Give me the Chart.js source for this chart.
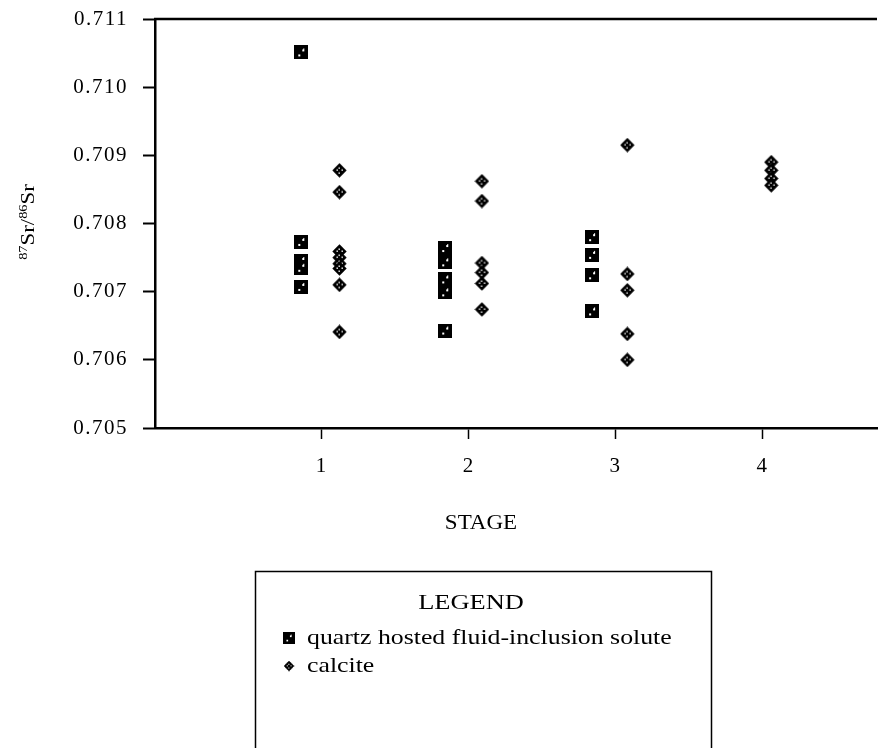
<!DOCTYPE html>
<html><head><meta charset="utf-8">
<script src="https://cdn.jsdelivr.net/npm/chart.js@4.4.0/dist/chart.umd.min.js"></script>
<style>html,body{margin:0;padding:0;background:#fff;} canvas{display:block;}</style>
</head><body>
<canvas id="c" width="882" height="748"></canvas>
<script>
// ---- data ----
const stageTicks = [1, 2, 3, 4];
const yTickValues = [0.705, 0.706, 0.707, 0.708, 0.709, 0.710, 0.711];

const quartzStage = [0.86, 0.86, 0.86, 0.86, 0.86,
                     1.84, 1.84, 1.84, 1.84, 1.84,
                     2.84, 2.84, 2.84, 2.84];
const quartzRatio = [0.71051, 0.70773, 0.70745, 0.70735, 0.70707,
                     0.70764, 0.70743, 0.70718, 0.70699, 0.70643,
                     0.70780, 0.70754, 0.70724, 0.70671];

const calciteStage = [1.12, 1.12, 1.12, 1.12, 1.12, 1.12, 1.12, 1.12,
                      2.09, 2.09, 2.09, 2.09, 2.09, 2.09,
                      3.08, 3.08, 3.08, 3.08, 3.08,
                      4.06, 4.06, 4.06, 4.06];
const calciteRatio = [0.70878, 0.70846, 0.70759, 0.70750, 0.70741, 0.70734, 0.70710, 0.70641,
                      0.70862, 0.70833, 0.70742, 0.70728, 0.70712, 0.70674,
                      0.70915, 0.70726, 0.70702, 0.70638, 0.70600,
                      0.70890, 0.70878, 0.70866, 0.70856];

const seriesNames = ['quartz hosted fluid-inclusion solute', 'calcite'];
const xTitle = 'STAGE';
const legendTitle = 'LEGEND';

// ---- marker images ----
function makeSquare() {
  const c = document.createElement('canvas'); c.width = 14; c.height = 14;
  const g = c.getContext('2d');
  g.fillStyle = '#000'; g.fillRect(0, 0, 14, 14);
  g.fillStyle = '#fff';
  g.fillRect(8, 4, 2, 2); g.fillRect(9, 3, 1, 1);
  g.fillRect(4, 9, 2, 2);
  return c;
}
function makeDiamond() {
  const c = document.createElement('canvas'); c.width = 15; c.height = 15;
  const g = c.getContext('2d');
  g.translate(7.5, 7.5);
  g.fillStyle = '#000';
  g.beginPath(); g.moveTo(0, -7.2); g.lineTo(7.2, 0); g.lineTo(0, 7.2); g.lineTo(-7.2, 0); g.closePath(); g.fill();
  g.fillStyle = '#fff';
  [[-3, -1], [2, -1], [-1, -3], [-1, 2]].forEach(p => g.fillRect(p[0], p[1], 1.4, 1.4));
  return c;
}
const squareImg = makeSquare();
const diamondImg = makeDiamond();

function toXY(xs, ys) { return xs.map((x, i) => ({x: x, y: ys[i]})); }

function stretchText(ctx, text, x, y, font, align, sx) {
  ctx.save();
  ctx.letterSpacing = '0px';
  ctx.translate(x, y);
  ctx.scale(sx, 1);
  ctx.font = font;
  ctx.fillStyle = '#000';
  ctx.textAlign = align;
  ctx.textBaseline = 'middle';
  ctx.fillText(text, 0, 0);
  ctx.restore();
}

const SERIF = '"Liberation Serif", "Times New Roman", serif';

const decorPlugin = {
  id: 'decor',
  beforeDraw(chart) { chart.ctx.letterSpacing = '1.5px'; },
  afterDraw(chart) {
    const ctx = chart.ctx;
    const a = chart.chartArea;
    ctx.save();
    ctx.letterSpacing = '0px';
    // top frame line
    ctx.strokeStyle = '#000'; ctx.lineWidth = 2.5;
    ctx.beginPath(); ctx.moveTo(a.left - 1, a.top); ctx.lineTo(a.right, a.top); ctx.stroke();

    // x title
    stretchText(ctx, xTitle, 481, 524, '20px ' + SERIF, 'center', 1.15);

    // y title with superscripts, rotated
    ctx.save();
    ctx.translate(27, 222);
    ctx.rotate(-Math.PI / 2);
    ctx.scale(1.2, 1);
    ctx.fillStyle = '#000';
    ctx.textBaseline = 'alphabetic';
    ctx.textAlign = 'left';
    const big = '19px ' + SERIF, small = '12px ' + SERIF;
    const parts = [['87', small, -7], ['Sr/', big, 0], ['86', small, -7], ['Sr', big, 0]];
    let total = 0;
    parts.forEach(p => { ctx.font = p[1]; total += ctx.measureText(p[0]).width; });
    let cx = -total / 2;
    parts.forEach(p => { ctx.font = p[1]; ctx.fillText(p[0], cx, 7 + p[2]); cx += ctx.measureText(p[0]).width; });
    ctx.restore();

    // legend box
    ctx.strokeStyle = '#000'; ctx.lineWidth = 1.5;
    ctx.beginPath();
    ctx.moveTo(255.5, 760); ctx.lineTo(255.5, 571.5); ctx.lineTo(711.5, 571.5); ctx.lineTo(711.5, 760);
    ctx.stroke();
    stretchText(ctx, legendTitle, 471, 603, '22px ' + SERIF, 'center', 1.2);
    ctx.drawImage(squareImg, 289 - 6, 638 - 6, 12, 12);
    stretchText(ctx, seriesNames[0], 307, 638, '21.5px ' + SERIF, 'left', 1.2);
    ctx.drawImage(diamondImg, 289 - 5.5, 666 - 5.5, 11, 11);
    stretchText(ctx, seriesNames[1], 307, 666, '21.5px ' + SERIF, 'left', 1.2);
    ctx.restore();
  }
};

new Chart(document.getElementById('c'), {
  type: 'scatter',
  data: {
    datasets: [
      { label: seriesNames[0], data: toXY(quartzStage, quartzRatio), pointStyle: squareImg, backgroundColor: '#000', borderColor: '#000' },
      { label: seriesNames[1], data: toXY(calciteStage, calciteRatio), pointStyle: diamondImg, backgroundColor: '#000', borderColor: '#000' }
    ]
  },
  options: {
    responsive: false,
    animation: false,
    devicePixelRatio: 1,
    layout: { padding: { top: 19, left: 0, right: 0, bottom: 0 } },
    plugins: { legend: { display: false }, tooltip: { enabled: false } },
    scales: {
      x: {
        type: 'linear', min: -0.136, max: 4.78,
        afterBuildTicks(scale) { scale.ticks = stageTicks.map(v => ({value: v})); },
        afterFit(scale) { scale.height = 320; scale.paddingLeft = 0; scale.paddingRight = 0; },
        ticks: { color: '#000', font: { family: SERIF, size: 21 }, padding: 15, maxRotation: 0,
                 callback: v => String(v) },
        grid: { display: true, drawOnChartArea: false, drawTicks: true, tickLength: 11, tickWidth: 1.5, tickColor: '#000' },
        border: { display: true, color: '#000', width: 2.5 }
      },
      y: {
        type: 'linear', min: 0.705, max: 0.711,
        afterBuildTicks(scale) { scale.ticks = yTickValues.map(v => ({value: v})); },
        afterFit(scale) { scale.width = 155; scale.paddingTop = 0; scale.paddingBottom = 0; },
        ticks: { color: '#000', font: { family: SERIF, size: 21 }, padding: 15,
                 callback: v => v.toFixed(3) },
        grid: { display: true, drawOnChartArea: false, drawTicks: true, tickLength: 12, tickWidth: 2, tickColor: '#000' },
        border: { display: true, color: '#000', width: 2.5 }
      }
    }
  },
  plugins: [decorPlugin]
});
</script>
</body></html>
